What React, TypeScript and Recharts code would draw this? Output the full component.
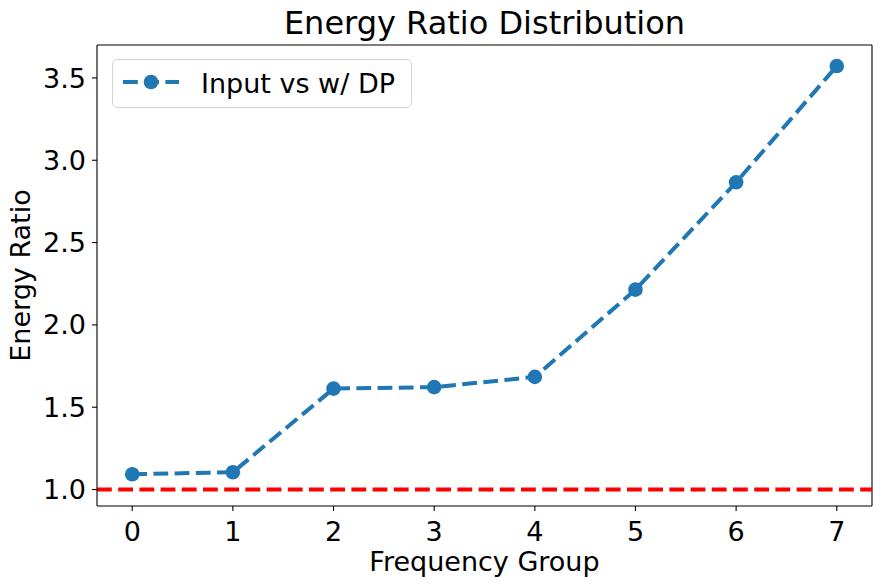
import {
  Legend,
  Line,
  LineChart,
  ReferenceLine,
  XAxis,
  YAxis,
} from 'recharts';

const FONT = '"DejaVu Sans", sans-serif';
const BLUE = '#1f77b4';
const DASH = '14.8 6.4';

const groups = [0, 1, 2, 3, 4, 5, 6, 7];
const ratios = [1.093, 1.105, 1.613, 1.622, 1.684, 2.214, 2.866, 3.572];
const xTicks = [0, 1, 2, 3, 4, 5, 6, 7];
const yTicks = [1.0, 1.5, 2.0, 2.5, 3.0, 3.5];
const xDomain = [-0.35, 7.35];
const yDomain = [0.9, 3.7];
const seriesName = 'Input vs w/ DP';
const baseline = 1.0;

const data = groups.map((g, i) => ({ x: g, ratio: ratios[i] }));

function LegendBox() {
  return (
    <div
      style={{
        width: 298,
        height: 47,
        border: '1px solid #d4d4d4',
        borderRadius: 5,
        background: 'rgba(255,255,255,0.8)',
        display: 'flex',
        alignItems: 'center',
        boxSizing: 'content-box',
      }}
    >
      <svg width={88} height={47} style={{ flexShrink: 0 }}>
        <line x1={10} x2={66} y1={22} y2={22} stroke={BLUE} strokeWidth={4} strokeDasharray={DASH} />
        <circle cx={38} cy={22} r={7.3} fill={BLUE} />
      </svg>
      <span style={{ fontFamily: FONT, fontSize: 27, color: '#000', lineHeight: 1 }}>
        {seriesName}
      </span>
    </div>
  );
}

export default function App() {
  return (
    <div style={{ position: 'absolute', left: 0, top: 0, width: 882, height: 587, background: '#fff' }}>
      <div
        style={{
          position: 'absolute',
          left: 97,
          width: 775,
          top: 4,
          textAlign: 'center',
          fontFamily: FONT,
          fontSize: 32,
          color: '#000',
        }}
      >
        Energy Ratio Distribution
      </div>
      <LineChart
        width={882}
        height={587}
        data={data}
        margin={{ top: 45, right: 10, left: 0, bottom: 0 }}
      >
        <XAxis
          dataKey="x"
          type="number"
          domain={xDomain}
          ticks={xTicks}
          allowDataOverflow
          height={81}
          stroke="#000"
          strokeWidth={1.1}
          tickSize={5}
          tickMargin={11}
          tick={{ fill: '#000', fontSize: 27, fontFamily: FONT }}
          label={(props: any) => {
            const vb = props.viewBox;
            return (
              <text
                x={vb.x + vb.width / 2}
                y={vb.y + 65}
                textAnchor="middle"
                fontSize={27}
                fontFamily={FONT}
                fill="#000"
              >
                Frequency Group
              </text>
            );
          }}
        />
        <YAxis
          type="number"
          domain={yDomain}
          ticks={yTicks}
          allowDataOverflow
          width={97}
          stroke="#000"
          strokeWidth={1.1}
          tickSize={5}
          tickMargin={6}
          tickFormatter={(v: number) => v.toFixed(1)}
          tick={{ fill: '#000', fontSize: 27, fontFamily: FONT }}
          label={(props: any) => {
            const vb = props.viewBox;
            const cx = vb.x + 30;
            const cy = vb.y + vb.height / 2;
            return (
              <text
                x={cx}
                y={cy}
                transform={`rotate(-90 ${cx} ${cy})`}
                textAnchor="middle"
                fontSize={27}
                fontFamily={FONT}
                fill="#000"
              >
                Energy Ratio
              </text>
            );
          }}
        />
        {/* frame: top and right spines */}
        <ReferenceLine y={yDomain[1]} stroke="#000" strokeWidth={1.1} />
        <ReferenceLine x={xDomain[1]} stroke="#000" strokeWidth={1.1} />
        <Line
          type="linear"
          dataKey="ratio"
          name={seriesName}
          stroke={BLUE}
          strokeWidth={4}
          strokeDasharray={DASH}
          dot={{ r: 7.3, fill: BLUE, stroke: 'none', strokeDasharray: '' }}
          activeDot={false}
          isAnimationActive={false}
        />
        <ReferenceLine y={baseline} stroke="#ff0000" strokeWidth={4} strokeDasharray={DASH} />
        <Legend
          layout="vertical"
          align="center"
          verticalAlign="middle"
          wrapperStyle={{ position: 'absolute', left: 112, top: 59, width: 300, height: 49 }}
          content={() => <LegendBox />}
        />
      </LineChart>
    </div>
  );
}
